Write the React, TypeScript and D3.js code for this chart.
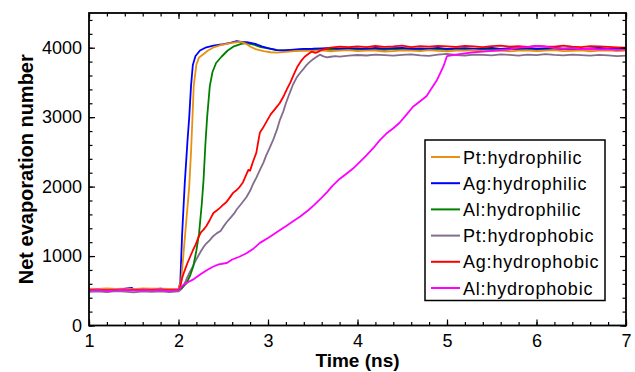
import React, { useEffect, useRef } from "react";
import * as d3 from "d3";

// [time (ns), net evaporation number]
const ptPhilic: [number, number][] = [
  [1.0, 530], [1.1, 526], [1.2, 533], [1.3, 528], [1.4, 531], [1.5, 525], [1.6, 534], [1.7, 529], [1.8, 532], [1.9, 527], [2.0, 530],
  [2.03, 640], [2.06, 1100], [2.09, 1550], [2.12, 2000], [2.14, 2500], [2.155, 2960], [2.17, 3450], [2.2, 3760], [2.23, 3860],
  [2.27, 3900], [2.33, 3960], [2.4, 4010], [2.48, 4040], [2.55, 4060], [2.62, 4075], [2.69, 4085], [2.75, 4060], [2.81, 4010],
  [2.87, 3975], [2.95, 3950], [3.03, 3935], [3.1, 3930], [3.2, 3940], [3.3, 3950], [3.4, 3955],
  [3.5, 3955], [3.6, 3962], [3.7, 3948], [3.8, 3958], [3.9, 3965], [4.0, 3950], [4.1, 3957], [4.2, 3960], [4.3, 3945],
  [4.4, 3952], [4.5, 3963], [4.6, 3958], [4.7, 3950], [4.8, 3966], [4.9, 3955], [5.0, 3948], [5.1, 3960], [5.2, 3957],
  [5.3, 3964], [5.4, 3951], [5.5, 3956], [5.6, 3960], [5.7, 3947], [5.8, 3958], [5.9, 3962], [6.0, 3953], [6.1, 3959],
  [6.2, 3966], [6.3, 3950], [6.4, 3955], [6.5, 3961], [6.6, 3948], [6.7, 3957], [6.8, 3963], [6.9, 3952], [7.0, 3958],
];

const agPhilic: [number, number][] = [
  [1.0, 520], [1.1, 528], [1.2, 515], [1.3, 524], [1.4, 530], [1.48, 540], [1.5, 518], [1.6, 526], [1.7, 521], [1.8, 529], [1.9, 517], [2.0, 522],
  [2.02, 620], [2.04, 1300], [2.07, 2050], [2.1, 2650], [2.12, 3000], [2.14, 3450], [2.16, 3750], [2.19, 3880], [2.24, 3960],
  [2.3, 4000], [2.39, 4030], [2.5, 4050], [2.58, 4070], [2.65, 4095], [2.7, 4085], [2.76, 4080], [2.82, 4065], [2.87, 4050],
  [2.93, 4020], [3.0, 3995], [3.05, 3980], [3.1, 3965], [3.18, 3960], [3.25, 3968], [3.32, 3975], [3.4, 3982],
  [3.5, 3985], [3.6, 3992], [3.7, 3998], [3.8, 3986], [3.9, 3995], [4.0, 3990], [4.1, 3982], [4.2, 3996], [4.3, 3988],
  [4.4, 3993], [4.5, 3999], [4.6, 3985], [4.7, 3991], [4.8, 3987], [4.9, 3997], [5.0, 3984], [5.1, 3992], [5.2, 3995],
  [5.3, 3986], [5.4, 3990], [5.5, 3998], [5.6, 3983], [5.7, 3994], [5.8, 3989], [5.9, 3996], [6.0, 3985], [6.1, 3991],
  [6.2, 3999], [6.3, 3987], [6.4, 3993], [6.5, 3984], [6.6, 3990], [6.7, 3996], [6.8, 3986], [6.9, 3992], [7.0, 3988],
];

const alPhilic: [number, number][] = [
  [1.0, 515], [1.1, 522], [1.2, 510], [1.3, 518], [1.4, 525], [1.5, 512], [1.6, 520], [1.7, 516], [1.8, 523], [1.9, 511], [2.0, 518],
  [2.04, 540], [2.09, 610], [2.13, 720], [2.165, 850], [2.2, 1080], [2.23, 1330], [2.26, 1750], [2.28, 2100], [2.3, 2600],
  [2.32, 3000], [2.35, 3450], [2.38, 3650], [2.42, 3780], [2.48, 3870], [2.55, 3960], [2.62, 4020], [2.7, 4055], [2.76, 4065],
  [2.84, 4045], [2.92, 4010], [3.0, 3990], [3.1, 3965], [3.2, 3960], [3.3, 3970], [3.4, 3975],
  [3.5, 3972], [3.6, 3978], [3.7, 3968], [3.8, 3980], [3.9, 3974], [4.0, 3970], [4.1, 3982], [4.2, 3976], [4.3, 3969],
  [4.4, 3979], [4.5, 3973], [4.6, 3981], [4.7, 3967], [4.8, 3975], [4.9, 3978], [5.0, 3971], [5.1, 3983], [5.2, 3974],
  [5.3, 3970], [5.4, 3977], [5.5, 3980], [5.6, 3968], [5.7, 3976], [5.8, 3982], [5.9, 3972], [6.0, 3975], [6.1, 3969],
  [6.2, 3979], [6.3, 3984], [6.4, 3970], [6.5, 3976], [6.6, 3973], [6.7, 3981], [6.8, 3968], [6.9, 3977], [7.0, 3974],
];

const ptPhobic: [number, number][] = [
  [1.0, 485], [1.1, 492], [1.2, 480], [1.3, 495], [1.4, 488], [1.5, 478], [1.6, 490], [1.7, 484], [1.8, 493], [1.9, 481], [2.0, 490],
  [2.03, 520], [2.05, 560], [2.08, 640], [2.1, 700], [2.13, 780], [2.16, 850], [2.19, 930], [2.22, 1000], [2.25, 1070],
  [2.28, 1130], [2.31, 1180], [2.35, 1230], [2.39, 1290], [2.43, 1330], [2.47, 1360], [2.5, 1420], [2.54, 1490], [2.58, 1550],
  [2.62, 1610], [2.65, 1670], [2.7, 1750], [2.76, 1850], [2.8, 1940], [2.83, 2030], [2.87, 2130], [2.91, 2240], [2.95, 2350],
  [2.98, 2450], [3.02, 2560], [3.06, 2680], [3.1, 2820], [3.13, 2950], [3.17, 3080], [3.2, 3200], [3.24, 3340], [3.28, 3470],
  [3.32, 3570], [3.36, 3640], [3.4, 3700], [3.43, 3750], [3.47, 3800], [3.5, 3830], [3.54, 3865], [3.58, 3900], [3.62, 3875],
  [3.66, 3860], [3.7, 3870], [3.75, 3880], [3.8, 3872], [3.9, 3885],
  [4.0, 3895], [4.1, 3888], [4.2, 3900], [4.3, 3892], [4.4, 3885], [4.5, 3898], [4.6, 3905], [4.7, 3890], [4.8, 3883],
  [4.9, 3900], [5.0, 3910], [5.1, 3895], [5.2, 3888], [5.3, 3902], [5.4, 3896], [5.5, 3890], [5.6, 3905], [5.7, 3898],
  [5.8, 3887], [5.9, 3900], [6.0, 3893], [6.1, 3908], [6.2, 3896], [6.3, 3889], [6.4, 3902], [6.5, 3894], [6.6, 3885],
  [6.7, 3898], [6.8, 3890], [6.9, 3880], [7.0, 3885],
];

const agPhobic: [number, number][] = [
  [1.0, 510], [1.1, 518], [1.2, 505], [1.3, 514], [1.4, 520], [1.5, 508], [1.6, 516], [1.7, 511], [1.8, 519], [1.9, 507], [2.0, 515],
  [2.02, 560], [2.04, 680], [2.06, 760], [2.08, 830], [2.1, 900], [2.13, 990], [2.16, 1080], [2.19, 1160], [2.22, 1260],
  [2.25, 1340], [2.28, 1380], [2.31, 1430], [2.35, 1520], [2.39, 1620], [2.42, 1650], [2.46, 1690], [2.5, 1740], [2.53, 1770],
  [2.56, 1820], [2.61, 1910], [2.64, 1940], [2.68, 1990], [2.72, 2060], [2.75, 2150], [2.78, 2240], [2.8, 2230], [2.83, 2350],
  [2.87, 2490], [2.89, 2640], [2.91, 2780], [2.95, 2860], [2.99, 2950], [3.03, 3040], [3.08, 3120], [3.13, 3200], [3.17, 3290],
  [3.21, 3400], [3.25, 3500], [3.29, 3620], [3.33, 3730], [3.37, 3810], [3.41, 3870], [3.45, 3910], [3.49, 3945], [3.53, 3925],
  [3.56, 3940], [3.6, 3970], [3.65, 3985], [3.7, 4000], [3.8, 4015], [3.9, 4010],
  [4.0, 4020], [4.1, 4008], [4.2, 4025], [4.3, 4012], [4.4, 4018], [4.5, 4030], [4.6, 4010], [4.7, 4022], [4.8, 4015],
  [4.9, 4028], [5.0, 4020], [5.1, 4012], [5.2, 4026], [5.3, 4018], [5.4, 4009], [5.5, 4024], [5.6, 4030], [5.7, 4016],
  [5.8, 4021], [5.9, 4011], [6.0, 4027], [6.1, 4019], [6.2, 4014], [6.3, 4029], [6.4, 4017], [6.5, 4010], [6.6, 4023],
  [6.7, 4018], [6.8, 4012], [6.9, 4005], [7.0, 4000],
];

const alPhobic: [number, number][] = [
  [1.0, 505], [1.1, 512], [1.2, 498], [1.3, 508], [1.4, 515], [1.5, 502], [1.6, 510], [1.7, 506], [1.8, 513], [1.9, 500], [2.0, 512],
  [2.05, 580], [2.1, 620], [2.16, 660], [2.25, 740], [2.32, 800], [2.39, 850], [2.45, 880], [2.54, 900], [2.6, 950],
  [2.68, 990], [2.76, 1040], [2.84, 1110], [2.91, 1190], [3.0, 1260], [3.06, 1310], [3.13, 1370], [3.2, 1430], [3.28, 1500],
  [3.36, 1570], [3.45, 1660], [3.52, 1740], [3.6, 1840], [3.66, 1920], [3.72, 2010], [3.8, 2110], [3.88, 2190], [3.95, 2260],
  [4.03, 2360], [4.1, 2450], [4.18, 2560], [4.25, 2670], [4.32, 2760], [4.4, 2840], [4.47, 2920], [4.55, 3040], [4.62, 3150],
  [4.7, 3230], [4.77, 3300], [4.83, 3420], [4.89, 3540], [4.96, 3730], [5.0, 3880],
  [5.1, 3900], [5.2, 3920], [5.3, 3935], [5.4, 3945], [5.5, 3955], [5.6, 3965], [5.7, 3975], [5.8, 4000], [5.9, 4010],
  [6.0, 4025], [6.1, 4015], [6.2, 3995], [6.3, 3985], [6.4, 3990], [6.5, 3980], [6.6, 3985], [6.7, 3975], [6.8, 3980],
  [6.9, 3970], [7.0, 3975],
];

const seriesNames = ["Pt:hydrophilic", "Ag:hydrophilic", "Al:hydrophilic", "Pt:hydrophobic", "Ag:hydrophobic", "Al:hydrophobic"];
const seriesData = [ptPhilic, agPhilic, alPhilic, ptPhobic, agPhobic, alPhobic];
const seriesColors = ["#e8900f", "#0000ff", "#008000", "#846c8c", "#ff0000", "#ff00ff"];
const drawOrder = [3, 2, 1, 0, 4, 5];

const xTicks = [1, 2, 3, 4, 5, 6, 7];
const yTicks = [0, 1000, 2000, 3000, 4000];

const FONT = "'Liberation Sans', Arial, sans-serif";

const App = () => {
  const svgRef = useRef<SVGSVGElement>(null);

  useEffect(() => {
    const margin = { top: 13, right: 9, bottom: 46.5, left: 89 };
    const W = 635;
    const H = 372;
    const width = W - margin.left - margin.right;
    const height = H - margin.top - margin.bottom;

    const root = d3.select(svgRef.current);
    root.selectAll("*").remove();
    root.attr("width", W).attr("height", H);

    const svg = root.append("g").attr("transform", `translate(${margin.left},${margin.top})`);

    const x = d3.scaleLinear().domain([1, 7]).range([0, width]);
    const y = d3.scaleLinear().domain([0, 4500]).range([height, 0]);

    svg.append("clipPath").attr("id", "plotclip")
      .append("rect").attr("width", width).attr("height", height);

    const line = d3.line<[number, number]>()
      .x((d) => x(d[0]))
      .y((d) => y(d[1]));

    drawOrder.forEach((i) => {
      svg.append("path")
        .datum(seriesData[i])
        .attr("clip-path", "url(#plotclip)")
        .attr("fill", "none")
        .attr("stroke", seriesColors[i])
        .attr("stroke-width", 1.8)
        .attr("stroke-linejoin", "round")
        .attr("d", line);
    });

    // ticks on all four sides, pointing in
    const addAxis = (axis, transform) => {
      const g = svg.append("g").attr("transform", transform).call(axis);
      g.select(".domain").remove();
      g.selectAll("line").attr("stroke", "#000").attr("stroke-width", 1.2);
      g.selectAll("text").attr("font-family", FONT).attr("font-size", 18).attr("fill", "#000");
      return g;
    };

    const xMinor = x.ticks(30);
    const yMinor = y.ticks(22);

    addAxis(d3.axisBottom(x).tickValues(xMinor).tickSize(-3.5).tickFormat(() => ""), `translate(0,${height})`);
    addAxis(d3.axisBottom(x).tickValues(xTicks).tickSize(-6).tickPadding(9).tickFormat(d3.format("d")), `translate(0,${height})`);
    addAxis(d3.axisTop(x).tickValues(xMinor).tickSize(-3.5).tickFormat(() => ""), "translate(0,0)");
    addAxis(d3.axisTop(x).tickValues(xTicks).tickSize(-6).tickFormat(() => ""), "translate(0,0)");

    addAxis(d3.axisLeft(y).tickValues(yMinor).tickSize(-3.5).tickFormat(() => ""), "translate(0,0)");
    addAxis(d3.axisLeft(y).tickValues(yTicks).tickSize(-6).tickPadding(7).tickFormat(d3.format("d")), "translate(0,0)");
    addAxis(d3.axisRight(y).tickValues(yMinor).tickSize(-3.5).tickFormat(() => ""), `translate(${width},0)`);
    addAxis(d3.axisRight(y).tickValues(yTicks).tickSize(-6).tickFormat(() => ""), `translate(${width},0)`);

    svg.append("rect")
      .attr("width", width)
      .attr("height", height)
      .attr("fill", "none")
      .attr("stroke", "#000")
      .attr("stroke-width", 1.8);

    svg.append("text")
      .attr("x", width / 2)
      .attr("y", height + 41.5)
      .attr("text-anchor", "middle")
      .attr("font-family", FONT)
      .attr("font-weight", "bold")
      .attr("font-size", 19)
      .text("Time (ns)");

    svg.append("text")
      .attr("transform", `translate(${33 - margin.left},${height / 2}) rotate(-90)`)
      .attr("text-anchor", "middle")
      .attr("font-family", FONT)
      .attr("font-weight", "bold")
      .attr("font-size", 20)
      .text("Net evaporation number");

    // legend
    const lg = root.append("g").attr("transform", "translate(425,140)");
    lg.append("rect")
      .attr("width", 180)
      .attr("height", 160.5)
      .attr("fill", "#fff")
      .attr("stroke", "#000")
      .attr("stroke-width", 1.5);
    seriesNames.forEach((name, i) => {
      const cy = 17 + i * 26.2;
      lg.append("line")
        .attr("x1", 6).attr("x2", 35)
        .attr("y1", cy).attr("y2", cy)
        .attr("stroke", seriesColors[i])
        .attr("stroke-width", 2);
      lg.append("text")
        .attr("x", 38)
        .attr("y", cy + 6.5)
        .attr("font-family", FONT)
        .attr("font-size", 18)
        .attr("letter-spacing", 0.8)
        .text(name);
    });
  }, []);

  return (
    <svg
      ref={svgRef}
      style={{ position: "absolute", left: 0, top: 0, background: "#fff" }}
    ></svg>
  );
};

export default App;
